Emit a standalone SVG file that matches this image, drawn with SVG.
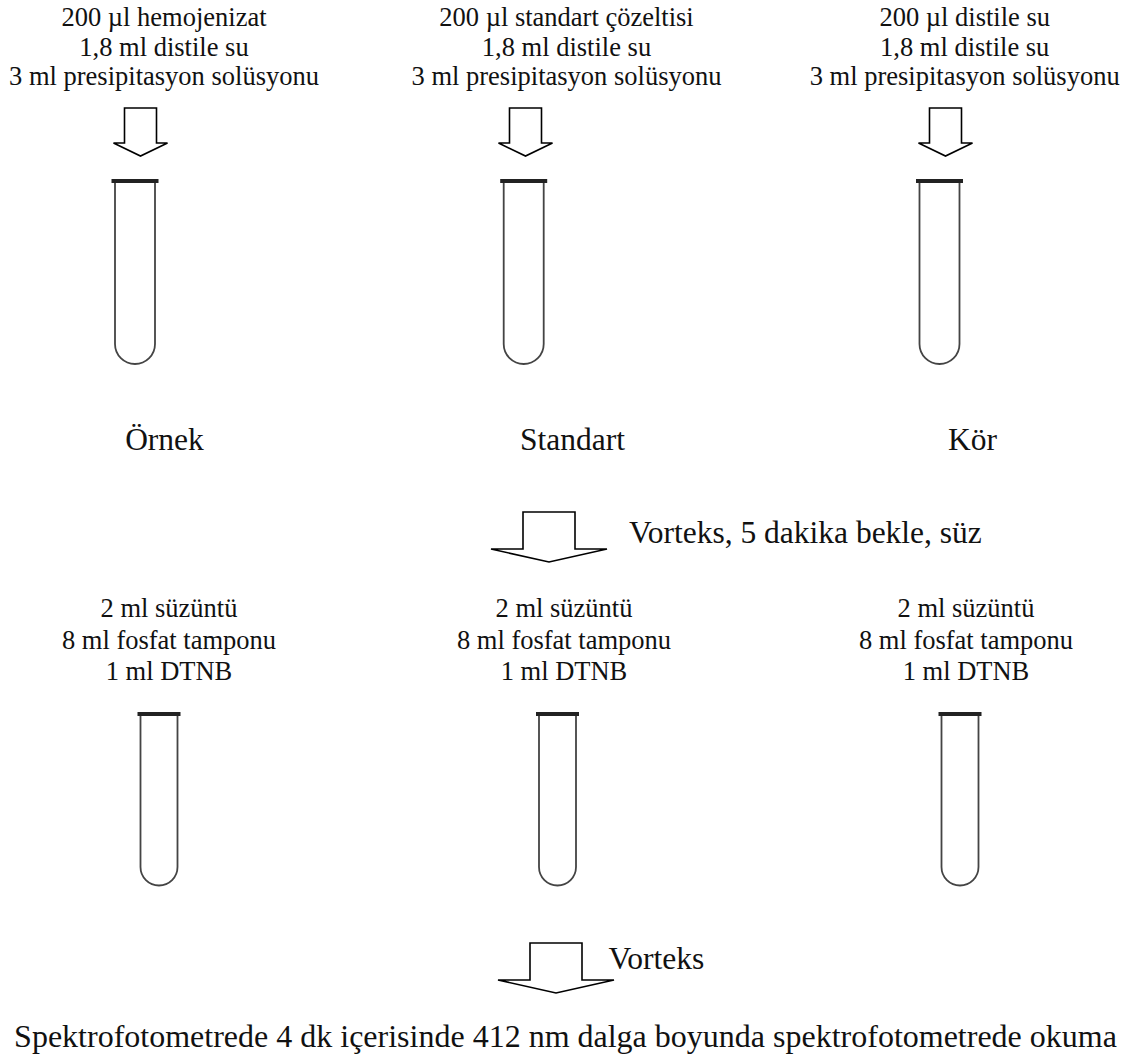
<svg xmlns="http://www.w3.org/2000/svg" width="1133" height="1059" viewBox="0 0 1133 1059">
  <style>
    text { font-family: "Liberation Serif", "Times New Roman", serif; fill: #111; text-anchor: middle; }
    .small { font-size: 26.5px; }
    .big { font-size: 31.5px; }
    .final { font-size: 32px; }
    .left { text-anchor: start; }
    .tube { fill: none; stroke: #444; stroke-width: 1.8; }
    .cap { fill: #222; }
    .arrow { fill: #fff; stroke: #000; stroke-width: 1.6; stroke-linejoin: miter; }
  </style>
  <defs>
    <!-- tall tube, first row: walls 40 wide -->
    <g id="tubeA">
      <path class="tube" d="M -20 183 V 344 A 20 20 0 0 0 20 344 V 183"/>
      <rect class="cap" x="-23.5" y="179" width="47" height="4"/>
    </g>
    <!-- slimmer tube, second row -->
    <g id="tubeB">
      <path class="tube" d="M -18.5 716 V 867 A 18.5 18.5 0 0 0 18.5 867 V 716"/>
      <rect class="cap" x="-21.5" y="712" width="43" height="4"/>
    </g>
    <!-- small block arrow pointing down (tip at 0,156) -->
    <path id="arrowSmall" class="arrow" d="M -16 108 H 16 V 143 H 27 L 0 156 L -27 143 H -16 Z"/>
    <!-- wide block arrow, origin at top centre -->
    <path id="arrowWide" class="arrow" d="M -26 0 H 26 V 37 H 58 L 0 50 L -58 37 H -26 Z"/>
  </defs>

  <!-- Sample column -->
  <g id="ornek">
    <text class="small" x="164" y="26">200 µl hemojenizat</text>
    <text class="small" x="164" y="55.5">1,8 ml distile su</text>
    <text class="small" x="164" y="85">3 ml presipitasyon solüsyonu</text>
    <use href="#tubeA" x="135" y="0"/>
    <text class="big" x="164.5" y="450">Örnek</text>
  </g>

  <!-- Standard column -->
  <g id="standart">
    <text class="small" x="566.5" y="26">200 µl standart çözeltisi</text>
    <text class="small" x="566.5" y="55.5">1,8 ml distile su</text>
    <text class="small" x="566.5" y="85">3 ml presipitasyon solüsyonu</text>
    <use href="#tubeA" x="523.7" y="0"/>
    <text class="big" x="572.5" y="450">Standart</text>
  </g>

  <!-- Blank column -->
  <g id="kor">
    <text class="small" x="964.7" y="26">200 µl distile su</text>
    <text class="small" x="964.7" y="55.5">1,8 ml distile su</text>
    <text class="small" x="964.7" y="85">3 ml presipitasyon solüsyonu</text>
    <use href="#tubeA" x="939.5" y="0"/>
    <text class="big" x="972.5" y="450">Kör</text>
  </g>

  <!-- Second stage tubes -->
  <g id="ornek2">
    <text class="small" x="169" y="617">2 ml süzüntü</text>
    <text class="small" x="169" y="648.5">8 ml fosfat tamponu</text>
    <text class="small" x="169" y="680">1 ml DTNB</text>
    <use href="#tubeB" x="159" y="0"/>
  </g>
  <g id="standart2">
    <text class="small" x="564" y="617">2 ml süzüntü</text>
    <text class="small" x="564" y="648.5">8 ml fosfat tamponu</text>
    <text class="small" x="564" y="680">1 ml DTNB</text>
    <use href="#tubeB" x="557.5" y="0"/>
  </g>
  <g id="kor2">
    <text class="small" x="966" y="617">2 ml süzüntü</text>
    <text class="small" x="966" y="648.5">8 ml fosfat tamponu</text>
    <text class="small" x="966" y="680">1 ml DTNB</text>
    <use href="#tubeB" x="960" y="0"/>
  </g>

  <!-- Final reading step -->
  <g id="okuma">
    <text class="final" x="565.5" y="1047">Spektrofotometrede 4 dk içerisinde 412 nm dalga boyunda spektrofotometrede okuma</text>
  </g>

  <!-- Block arrows between steps -->
  <g id="connectors">
    <use href="#arrowSmall" x="140.5" y="0"/>
    <use href="#arrowSmall" x="525.5" y="0"/>
    <use href="#arrowSmall" x="945.5" y="0"/>
    <use href="#arrowWide" x="549" y="512"/>
    <text class="big left" x="629" y="543">Vorteks, 5 dakika bekle, süz</text>
    <use href="#arrowWide" x="556" y="943"/>
    <text class="big left" x="608.5" y="969">Vorteks</text>
  </g>
</svg>
